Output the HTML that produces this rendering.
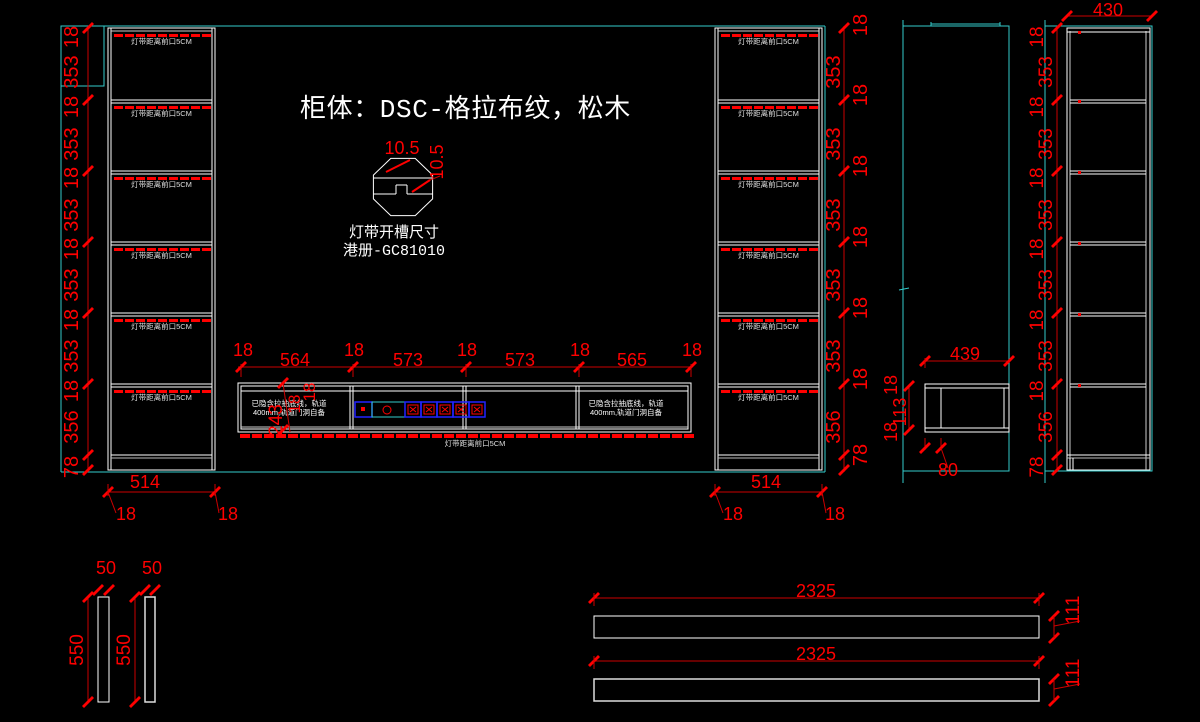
<!DOCTYPE html>
<html><head><meta charset="utf-8"><style>
html,body{margin:0;padding:0;background:#000;width:1200px;height:722px;overflow:hidden}
svg{display:block}
text{font-family:"Liberation Sans","Noto Sans CJK SC",sans-serif}
</style></head><body>
<svg id="s" width="1200" height="722" viewBox="0 0 1200 722" xmlns="http://www.w3.org/2000/svg">
<rect width="1200" height="722" fill="#000"/>
<g id="g" fill="none" stroke-width="1"></g>
<text x="300" y="117" fill="#fff" font-size="26" letter-spacing="0.6" style="font-family:'Liberation Mono','Noto Sans CJK SC',monospace">柜体：DSC-格拉布纹，松木</text>
<text x="394" y="237" fill="#fff" font-size="15" text-anchor="middle" style="font-family:'Noto Sans CJK SC',sans-serif">灯带开槽尺寸</text>
<text x="394" y="255" fill="#fff" font-size="15" text-anchor="middle" style="font-family:'Liberation Mono','Noto Sans CJK SC',monospace">港册-GC81010</text>
</svg>
<script>
const g=document.getElementById('g');const NS='http://www.w3.org/2000/svg';
function el(t,a,txt){const e=document.createElementNS(NS,t);for(const k in a)e.setAttribute(k,a[k]);if(txt!==undefined)e.textContent=txt;g.appendChild(e);return e;}
function L(x1,y1,x2,y2,c,w){el('line',{x1,y1,x2,y2,stroke:c,'stroke-width':w||1});}
function R(x,y,w,h,c,sw){el('rect',{x,y,width:w,height:h,stroke:c,fill:'none','stroke-width':sw||1});}
function T(x,y,s,size,rot,anchor,col){const a={x,y,fill:col||'#f00','font-size':size||19,'text-anchor':anchor||'middle'};if(rot)a.transform=`rotate(-90 ${x} ${y})`;el('text',a,s);}
function tick(x,y){L(x-5,y+5,x+5,y-5,'#f00',2.8);}
const C='#3cc',W='#fff',Rd='#f00',RD='#c00';
L(61,26,825,26,C);L(61,472,825,472,C);L(61,26,61,472,C);L(825,26,825,472,C);
R(61,26,43,60,C);
const shelves=[100,171,242,313,384];
function cabinet(x0,x1){
 R(x0,28,x1-x0,442,W);L(x0+3,28,x0+3,470,W);L(x1-3,28,x1-3,470,W);
 L(x0+3,31,x1-3,31,'#ccc');
 shelves.forEach(y=>{L(x0+3,y,x1-3,y,W);L(x0+3,y+3,x1-3,y+3,W);});
 L(x0+3,455,x1-3,455,W);L(x0+3,458,x1-3,458,'#bbb');
 [31,103,174,245,316,387].forEach(y=>{
  for(let x=x0+6;x<x1-8;x+=11){el('rect',{x,y:y+3,width:9,height:3,fill:Rd,stroke:'none'});}
  T((x0+x1)/2,y+13,'灯带距离前口5CM',7.5,0,'middle','#ddd');
 });
}
cabinet(108,215);cabinet(715,822);
function vdim(x){L(x,26,x,472,RD);[28,100,171,242,313,384,455,470].forEach(y=>tick(x,y));}
vdim(88);vdim(844);
const labs=[['18',30],['353',65],['18',100],['353',137],['18',171],['353',208],['18',242],['353',278],['18',313],['353',349],['18',384],['356',420],['78',460]];
labs.forEach(([s,y])=>{T(78,y+7,s,20,1);});
labs.forEach(([s,y])=>{const big=s.length>2;T(big?840:867,y+7-(big?0:12),s,20,1);});
function hdim(x0,x1,y,cx){L(x0,y,x1,y,RD);tick(x0,y);tick(x1,y);L(x0,y-8,x0,y+4,RD);L(x1,y-8,x1,y+4,RD);T(cx,y-4,'514',18);
 T(x0+18,y+28,'18',18);T(x1+13,y+28,'18',18);L(x0,y,x0+8,y+21,RD);L(x1,y,x1+4,y+21,RD);}
hdim(108,215,492,145);hdim(715,822,492,766);
const pts=[];for(let i=0;i<8;i++){const a=Math.PI/8+i*Math.PI/4;pts.push((403+32*Math.cos(a)).toFixed(1)+','+(187+31*Math.sin(a)).toFixed(1));}
el('polygon',{points:pts.join(' '),stroke:W,fill:'none'});
L(373,178,433,178,W);L(373,194,396,194,W);L(396,194,396,185,W);L(396,185,407,185,W);L(407,185,407,194,W);L(407,194,433,194,W);
L(386,172,410,160,Rd,2);L(412,192,430,180,Rd,2);L(430,180,440,176,RD);
T(402,154,'10.5',18);T(443,162,'10.5',18,1);
R(238,383,453,49,W);R(241,386,447,43,W);L(241,391,688,391,W);L(241,427,688,427,'#ccc');
[350,353,463,466,576,579].forEach(x=>L(x,386,x,429,W));
for(let x=240;x<690;x+=12){el('rect',{x,y:434,width:10,height:4,fill:Rd,stroke:'none'});}
T(475,446,'灯带距离前口5CM',7.5,0,'middle','#ddd');
T(289,406,'已隐含拉抽底线，轨道',7.5,0,'middle','#fff');T(289,415,'400mm,轨道门洞自备',7.5,0,'middle','#fff');
T(626,406,'已隐含拉抽底线，轨道',7.5,0,'middle','#fff');T(626,415,'400mm,轨道门洞自备',7.5,0,'middle','#fff');
R(355,402,17,15,'#22f',1.5);el('rect',{x:361,y:407,width:4,height:4,fill:Rd});
R(372,402,33,15,C);el('circle',{cx:387,cy:410,r:4,stroke:Rd,fill:'none'});
for(let i=0;i<5;i++){const x=405+i*16;R(x,402,16,15,'#22f',1.5);R(x+3,405,10,9,Rd);L(x+5,407,x+11,412,Rd);L(x+11,407,x+5,412,Rd);}
L(283,383,290,432,RD);tick(283,383);tick(283,430);T(282,420,'243',19,1);T(300,404,'18',17,1);T(315,392,'18',17,1);
L(238,367,691,367,RD);
[241,353,466,579,691].forEach(x=>{tick(x,367);L(x,364,x,377,RD);});
[['18',243],['18',354],['18',467],['18',580],['18',692]].forEach(([s,x])=>T(x,356,s,18));
[['564',295],['573',408],['573',520],['565',632]].forEach(([s,x])=>T(x,366,s,18));
L(903,20,903,483,C);R(903,26,106,445,C);L(931,24,1000,24,C);L(931,22,931,26,C);L(1000,22,1000,26,C);
L(899,290,909,288,C);
R(925,384,84,48,W);L(925,388,1009,388,W);L(925,428,1009,428,W);L(941,388,941,428,W);L(1004,388,1004,428,W);
L(925,361,1009,361,RD);tick(925,361);tick(1009,361);L(925,358,925,368,RD);T(965,360,'439',18);
L(909,386,909,430,RD);tick(909,386);tick(909,430);T(897,385,'18',18,1);T(906,412,'113',18,1);T(897,432,'18',18,1);
L(925,438,925,450,RD);L(941,438,941,450,RD);tick(925,448);tick(941,448);L(941,448,948,468,RD);T(948,476,'80',18);
L(1045,20,1045,483,C);R(1045,26,107,445,C);
R(1067,28,83,442,W);L(1070,31,1070,470,'#ccc');L(1146,31,1146,470,'#ccc');L(1067,32,1150,32,W);
shelves.forEach(y=>{L(1070,y,1146,y,W);L(1070,y+3,1146,y+3,W);el('rect',{x:1078,y:y,width:3,height:3,fill:Rd});});
el('rect',{x:1078,y:31,width:3,height:3,fill:Rd});
L(1067,455,1150,455,W);L(1067,458,1150,458,'#bbb');L(1070,458,1070,470,W);L(1073,458,1073,470,W);
L(1057,26,1057,472,RD);[28,100,171,242,313,384,455,470].forEach(y=>tick(1057,y));
labs.forEach(([s,y])=>T(s.length>2?1052:1043,y+7,s,19,1));
L(1067,16,1152,16,RD);tick(1067,16);tick(1152,16);T(1108,16,'430',18);
R(98,597,11,105,W);R(145,597,10,105,'#ddd',1.5);
L(88,597,88,702,RD);tick(88,597);tick(88,702);T(83,650,'550',19,1);
L(135,597,135,702,RD);tick(135,597);tick(135,702);T(130,650,'550',19,1);
tick(98,590);tick(109,590);T(106,574,'50',18);tick(145,590);tick(155,590);T(152,574,'50',18);
R(594,616,445,22,W);R(594,679,445,22,'#ddd',1.5);
[598,661].forEach(y=>{L(594,y,1039,y,RD);tick(594,y);tick(1039,y);L(594,y-5,594,y+8,RD);L(1039,y-5,1039,y+8,RD);T(816,y-1,'2325',18);});
[[616,638],[679,701]].forEach(([a,b])=>{tick(1054,a);tick(1054,b);L(1054,a,1054,b,RD);L(1054,a+10,1080,a+5,RD);T(1079,a-6,'111',19,1);});
</script>
</body></html>
